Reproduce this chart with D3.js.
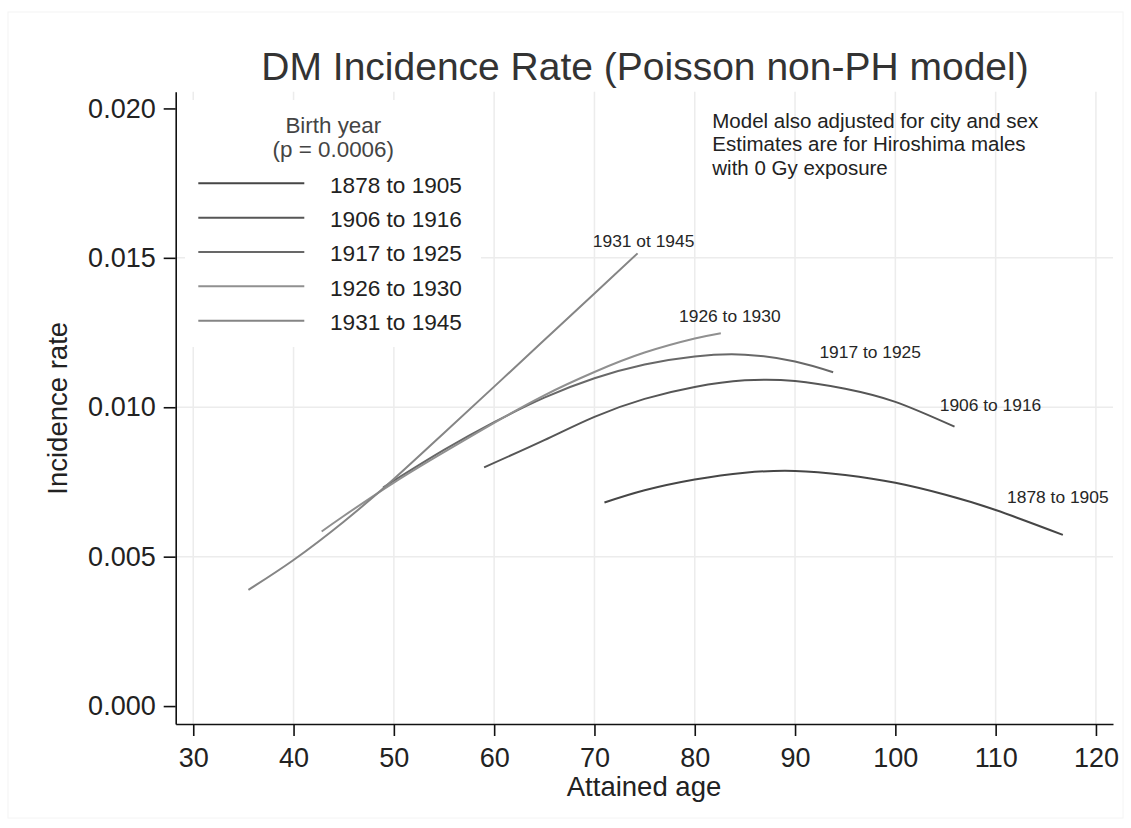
<!DOCTYPE html>
<html>
<head>
<meta charset="utf-8">
<script src="https://cdn.jsdelivr.net/npm/d3@7"></script>
<style>
  body { margin: 0; background: #fff; }
  text { font-family: "Liberation Sans", Arial, sans-serif; }
</style>
</head>
<body>
<svg id="chart" width="1131" height="828"></svg>
<script>
// birth cohorts (legend) and the labels written on the curves
var cohorts = ["1878 to 1905", "1906 to 1916", "1917 to 1925", "1926 to 1930", "1931 to 1945"];
var curveLabels = ["1878 to 1905", "1906 to 1916", "1917 to 1925", "1926 to 1930", "1931 ot 1945"];

// attained age / incidence rate
var age1878 = [71, 75, 80, 85, 90, 95, 100, 105, 110, 116.7];
var rate1878 = [0.00681, 0.00722, 0.00758, 0.00781, 0.00787, 0.00773, 0.00747, 0.00707, 0.00656, 0.00573];
var age1906 = [59, 65, 70, 75, 80, 85, 90, 95, 100, 105.9];
var rate1906 = [0.00799, 0.00890, 0.00968, 0.01028, 0.01068, 0.01090, 0.01088, 0.01062, 0.01018, 0.00935];
var age1917 = [49, 50, 55, 60, 65, 70, 75, 80, 85, 90, 93.8];
var rate1917 = [0.00733, 0.00754, 0.00857, 0.00950, 0.01032, 0.01097, 0.01143, 0.01170, 0.01176, 0.01153, 0.01117];
var age1926 = [42.8, 45, 50, 55, 60, 65, 70, 75, 80, 82.6];
var rate1926 = [0.00584, 0.00636, 0.00748, 0.00850, 0.00948, 0.01040, 0.01118, 0.01183, 0.01230, 0.01248];
var age1931 = [35.5, 40, 45, 50, 55, 60, 65, 70, 74.3];
var rate1931 = [0.00389, 0.00489, 0.00617, 0.00760, 0.00914, 0.01069, 0.01225, 0.01381, 0.01515];

var xTicks = [30, 40, 50, 60, 70, 80, 90, 100, 110, 120];
var yTicks = [0, 0.005, 0.010, 0.015, 0.020];
var notes = ["Model also adjusted for city and sex", "Estimates are for Hiroshima males", "with 0 Gy exposure"];

var ages = [age1878, age1906, age1917, age1926, age1931],
	rates = [rate1878, rate1906, rate1917, rate1926, rate1931];

var series = cohorts.map(function (c, i) {
	return {
		key: c,
		label: curveLabels[i],
		values: ages[i].map(function (a, j) { return {age: a, rate: rates[i][j]}; })
	};
});

// styling
var colors = ["#464646", "#565656", "#686868", "#909090", "#858585"];
var labelDx = [-5, 36, 37, 9, 6],
	labelDy = [-32, -16, -14, -11, -6];

var svg = d3.select("#chart");

var x = d3.scaleLinear().domain([28.25, 121.7]).range([175.7, 1113]),
	y = d3.scaleLinear().domain([-0.0006, 0.02056]).range([724, 91.7]);

// faint outer frame
svg.append("rect")
	.attr("x", 8).attr("y", 12).attr("width", 1115).attr("height", 806)
	.attr("fill", "none").attr("stroke", "#f4f4f4").attr("stroke-width", 1);

// grid
var grid = svg.append("g");
grid.selectAll(".gx")
	.data(xTicks)
	.enter()
	.append("line")
	.attr("x1", function (d) { return x(d); })
	.attr("x2", function (d) { return x(d); })
	.attr("y1", y.range()[1])
	.attr("y2", y.range()[0])
	.attr("stroke", "#ececec")
	.attr("stroke-width", 1.5);
grid.selectAll(".gy")
	.data(yTicks.filter(function (d) { return d > 0 && d < 0.02; }))
	.enter()
	.append("line")
	.attr("x1", x.range()[0])
	.attr("x2", x.range()[1])
	.attr("y1", function (d) { return y(d); })
	.attr("y2", function (d) { return y(d); })
	.attr("stroke", "#ececec")
	.attr("stroke-width", 1.5);

// legend background hides the grid behind it
svg.append("rect")
	.attr("x", 185).attr("y", 100).attr("width", 296).attr("height", 247)
	.attr("fill", "#fff");

// curves
var line = d3.line()
	.x(function (d) { return x(d.age); })
	.y(function (d) { return y(d.rate); })
	.curve(d3.curveNatural);

var curves = svg.append("g")
	.selectAll(".curve")
	.data(series)
	.enter()
	.append("g");

curves.append("path")
	.attr("d", function (d) { return line(d.values); })
	.attr("fill", "none")
	.attr("stroke", function (d, i) { return colors[i]; })
	.attr("stroke-width", 2);

curves.append("text")
	.each(function (d, i) {
		var last = d.values[d.values.length - 1];
		d3.select(this)
			.attr("x", x(last.age) + labelDx[i])
			.attr("y", y(last.rate) + labelDy[i])
			.attr("text-anchor", "middle")
			.attr("font-size", "17.4px")
			.attr("fill", "#262626")
			.text(d.label);
	});

// axes
var xAxis = svg.append("g")
	.attr("transform", "translate(0," + y.range()[0] + ")")
	.call(d3.axisBottom(x).tickValues(xTicks).tickSize(12).tickSizeOuter(0).tickPadding(12));
var yAxis = svg.append("g")
	.attr("transform", "translate(" + x.range()[0] + ",0)")
	.call(d3.axisLeft(y).tickValues(yTicks).tickSize(12).tickSizeOuter(0).tickPadding(8)
		.tickFormat(d3.format(".3f")));

[xAxis, yAxis].forEach(function (ax) {
	ax.select(".domain").attr("stroke", "#111").attr("stroke-width", 1.6);
	ax.selectAll(".tick line").attr("stroke", "#111").attr("stroke-width", 1.6);
	ax.selectAll(".tick text")
		.attr("font-size", "27px")
		.attr("fill", "#222")
		.style("font-family", "'Liberation Sans', Arial, sans-serif");
});

// titles
svg.append("text")
	.attr("x", 645).attr("y", 80)
	.attr("text-anchor", "middle")
	.attr("font-size", "39px")
	.attr("fill", "#333")
	.text("DM Incidence Rate (Poisson non-PH model)");

svg.append("text")
	.attr("x", 644).attr("y", 796)
	.attr("text-anchor", "middle")
	.attr("font-size", "27.5px")
	.attr("fill", "#222")
	.text("Attained age");

svg.append("text")
	.attr("transform", "translate(66.7,408.3) rotate(-90)")
	.attr("text-anchor", "middle")
	.attr("font-size", "27.5px")
	.attr("fill", "#222")
	.text("Incidence rate");

// note
svg.append("g")
	.selectAll("text")
	.data(notes)
	.enter()
	.append("text")
	.attr("x", 712.3)
	.attr("y", function (d, i) { return 128 + i * 23.4; })
	.attr("font-size", "20.5px")
	.attr("fill", "#222")
	.text(function (d) { return d; });

// legend
var legend = svg.append("g");
legend.append("text")
	.attr("x", 333.3).attr("y", 133.3)
	.attr("text-anchor", "middle")
	.attr("font-size", "22.4px")
	.attr("fill", "#444")
	.text("Birth year");
legend.append("text")
	.attr("x", 333.3).attr("y", 156.7)
	.attr("text-anchor", "middle")
	.attr("font-size", "22.4px")
	.attr("fill", "#444")
	.text("(p = 0.0006)");

var items = legend.selectAll(".item")
	.data(series)
	.enter()
	.append("g")
	.attr("transform", function (d, i) { return "translate(0," + (183.3 + i * 34.35) + ")"; });
items.append("line")
	.attr("x1", 198.3).attr("x2", 304.3)
	.attr("stroke", function (d, i) { return colors[i]; })
	.attr("stroke-width", 2);
items.append("text")
	.attr("x", 330)
	.attr("y", 9.4)
	.attr("font-size", "22.6px")
	.attr("fill", "#222")
	.text(function (d) { return d.key; });
</script>
</body>
</html>
